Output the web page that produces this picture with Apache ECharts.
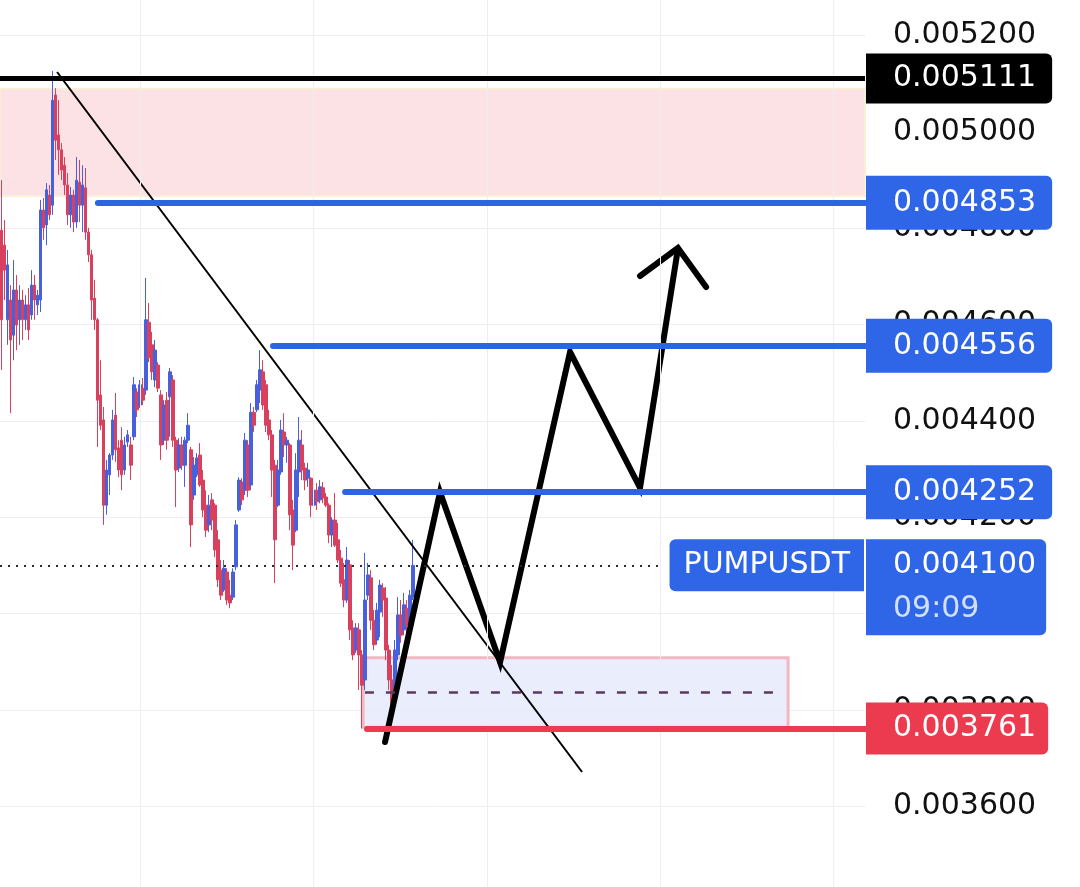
<!DOCTYPE html>
<html>
<head>
<meta charset="utf-8">
<script src="https://cdn.jsdelivr.net/npm/echarts@6/dist/echarts.min.js"></script>
<style>html,body{margin:0;padding:0;background:#fff}#c{width:1080px;height:887px}</style>
</head>
<body>
<div id="c"></div>
<script>
// ---------- data ----------
const symbolName = 'PUMPUSDT';
const countdown = '09:09';
const slotCount = 288; // bar slots on the time axis (candles + empty future space)

const opens = [
0.004796,0.004765,0.004610,0.004651,0.004578,0.004672,0.004610,0.004651,0.004610,0.004641,
0.004620,0.004682,0.004641,0.004651,0.004838,0.004807,0.004869,0.004848,0.005077,0.004994,
0.004963,0.004931,0.004890,0.004828,0.004869,0.004813,0.004896,0.004848,0.004884,0.004792,
0.004745,0.004655,0.004610,0.004454,0.004402,0.004225,0.004288,0.004329,0.004412,0.004344,
0.004360,0.004298,0.004356,0.004350,0.004367,0.004460,0.004433,0.004468,0.004464,0.004605,
0.004558,0.004485,0.004516,0.004454,0.004360,0.004443,0.004450,0.004485,0.004360,0.004302,
0.004350,0.004308,0.004360,0.004340,0.004246,0.004288,0.004329,0.004277,0.004225,0.004184,
0.004236,0.004225,0.004153,0.004090,0.004049,0.004086,0.004038,0.004034,0.004097,0.004215,
0.004273,0.004256,0.004350,0.004267,0.004418,0.004423,0.004464,0.004502,0.004475,0.004402,
0.004371,0.004308,0.004225,0.004294,0.004377,0.004350,0.004350,0.004215,0.004173,0.004294,
0.004350,0.004302,0.004281,0.004281,0.004225,0.004256,0.004236,0.004261,0.004242,0.004225,
0.004163,0.004194,0.004153,0.004115,0.004070,0.004028,0.004101,0.003970,0.003924,0.003966,
0.003914,0.003862,0.004038,0.004074,0.003986,0.003945,0.004003,0.004053,0.004032,0.003924,
0.003862,0.003820,0.003914,0.003997,0.003966,0.004011,0.003976,0.004034];

const closes = [
0.004610,0.004713,0.004724,0.004568,0.004672,0.004599,0.004651,0.004610,0.004641,0.004589,
0.004682,0.004651,0.004661,0.004838,0.004801,0.004880,0.004828,0.005066,0.004983,0.004963,
0.004921,0.004890,0.004828,0.004869,0.004813,0.004900,0.004848,0.004890,0.004792,0.004745,
0.004651,0.004610,0.004443,0.004391,0.004225,0.004298,0.004329,0.004402,0.004340,0.004298,
0.004288,0.004350,0.004371,0.004308,0.004475,0.004423,0.004475,0.004443,0.004610,0.004531,
0.004502,0.004547,0.004468,0.004350,0.004433,0.004360,0.004502,0.004360,0.004298,0.004350,
0.004308,0.004360,0.004391,0.004184,0.004308,0.004323,0.004267,0.004215,0.004173,0.004225,
0.004194,0.004132,0.004070,0.004038,0.004094,0.004028,0.004022,0.004086,0.004184,0.004277,
0.004236,0.004360,0.004256,0.004418,0.004391,0.004475,0.004506,0.004433,0.004391,0.004371,
0.004298,0.004153,0.004298,0.004381,0.004350,0.004360,0.004205,0.004142,0.004298,0.004360,
0.004298,0.004277,0.004298,0.004225,0.004256,0.004232,0.004263,0.004240,0.004225,0.004163,
0.004194,0.004142,0.004111,0.004063,0.004028,0.004111,0.003966,0.003914,0.003970,0.003914,
0.003851,0.004028,0.004080,0.003986,0.003935,0.004007,0.004059,0.004028,0.003924,0.003862,
0.003810,0.003924,0.003997,0.003955,0.004018,0.003976,0.004038,0.004100];

const lows = [
0.004506,0.004651,0.004558,0.004416,0.004526,0.004547,0.004558,0.004568,0.004589,0.004568,
0.004610,0.004610,0.004620,0.004626,0.004776,0.004765,0.004817,0.004828,0.004942,0.004911,
0.004900,0.004869,0.004807,0.004801,0.004792,0.004801,0.004813,0.004792,0.004776,0.004730,
0.004610,0.004589,0.004346,0.004381,0.004184,0.004205,0.004246,0.004319,0.004315,0.004283,
0.004256,0.004288,0.004346,0.004277,0.004360,0.004408,0.004427,0.004433,0.004454,0.004522,
0.004485,0.004470,0.004460,0.004319,0.004350,0.004340,0.004367,0.004346,0.004221,0.004294,
0.004298,0.004263,0.004354,0.004138,0.004236,0.004283,0.004263,0.004200,0.004159,0.004169,
0.004173,0.004117,0.004055,0.004028,0.004045,0.004018,0.004011,0.004028,0.004090,0.004211,
0.004225,0.004246,0.004242,0.004256,0.004377,0.004418,0.004437,0.004423,0.004377,0.004360,
0.004242,0.004063,0.004221,0.004288,0.004325,0.004313,0.004173,0.004090,0.004169,0.004242,
0.004277,0.004256,0.004263,0.004200,0.004215,0.004215,0.004229,0.004229,0.004221,0.004146,
0.004138,0.004138,0.004105,0.004055,0.004013,0.004022,0.003945,0.003903,0.003918,0.003841,
0.003761,0.003841,0.004028,0.003966,0.003924,0.003935,0.003951,0.003993,0.003903,0.003841,
0.003785,0.003810,0.003903,0.003939,0.003955,0.003939,0.003966,0.004028];

const highs = [
0.004900,0.004817,0.004755,0.004682,0.004734,0.004703,0.004682,0.004672,0.004661,0.004676,
0.004713,0.004703,0.004672,0.004859,0.004863,0.004894,0.004890,0.005127,0.005091,0.005066,
0.004977,0.004948,0.004915,0.004886,0.004880,0.004948,0.004942,0.004931,0.004925,0.004801,
0.004755,0.004693,0.004614,0.004526,0.004429,0.004319,0.004333,0.004423,0.004458,0.004360,
0.004387,0.004367,0.004381,0.004367,0.004491,0.004468,0.004485,0.004489,0.004697,0.004645,
0.004585,0.004568,0.004522,0.004464,0.004443,0.004460,0.004510,0.004495,0.004367,0.004364,
0.004367,0.004367,0.004416,0.004346,0.004325,0.004333,0.004354,0.004298,0.004256,0.004246,
0.004250,0.004229,0.004173,0.004111,0.004111,0.004094,0.004070,0.004094,0.004194,0.004283,
0.004281,0.004375,0.004360,0.004437,0.004429,0.004485,0.004547,0.004526,0.004485,0.004423,
0.004381,0.004319,0.004319,0.004402,0.004416,0.004367,0.004354,0.004236,0.004333,0.004408,
0.004381,0.004313,0.004313,0.004283,0.004263,0.004271,0.004277,0.004273,0.004250,0.004229,
0.004200,0.004250,0.004188,0.004132,0.004105,0.004138,0.004111,0.003986,0.003980,0.003980,
0.003924,0.004126,0.004105,0.004090,0.004007,0.004022,0.004070,0.004063,0.004055,0.003935,
0.003893,0.003945,0.004034,0.004028,0.004043,0.004028,0.004049,0.004153];

// price scale
const priceMin = 0.0034;
const priceMax = 0.0054;
const priceStep = 0.0002;

// vertical time grid lines (in bar-slot units)
const timeGridSlots = [46.6, 104.2, 162.1, 219.7, 277.3];

// drawn levels: [price, start slot]
const peakLevel = [0.005111, 0];
const blueLevels = [[0.004853, 32.6], [0.004556, 90.9], [0.004252, 114.9]];
const supportLevel = [0.003761, 122.2];

// zones
const supplyZone = [0.005090, 0.004867];          // top, bottom price
const demandZone = [120.9, 262.4, 0.003908, 0.003764]; // start slot, end slot, top, bottom

// trend line and projected path (slot, price)
const trendLine = [[19.0, 0.0051246], [193.8, 0.0036708]];
const projectedPath = [[128.2, 0.003733], [146.5, 0.004252], [166.5, 0.003899], [189.8, 0.004543], [213.1, 0.004261], [225.7, 0.004757]];
const arrowHead = [[213.1, 0.004701], [225.7, 0.004759], [235.1, 0.004678]];
const priceLineEndSlot = 220.7;

// ---------- build ----------
const categories = [];
for (let i = 0; i < slotCount; i++) categories.push(String(i));
const candleData = opens.map((o, i) => [o, closes[i], lows[i], highs[i]]);
const lastPrice = closes[closes.length - 1];

const FONT = 'DejaVu Sans';
const BLUE_BOX = '#2e66e7';
const BLUE_LINE = '#2f63e2';
const RED = '#ec3a4e';

function boxLabel(text, bg, opts) {
  return Object.assign({
    show: true, position: 'right', distance: 1, formatter: text,
    backgroundColor: bg, color: '#ffffff', fontFamily: FONT, fontSize: 30, lineHeight: 32,
    padding: [10, 16, 10, 27], borderRadius: [0, 6, 6, 0]
  }, opts || {});
}
function fmt(v) { return v.toFixed(6); }

const levelLines = [];
levelLines.push([{coord: [peakLevel[1], peakLevel[0]], lineStyle: {color: '#000000', width: 5, type: 'solid', cap: 'butt'}}, {coord: [slotCount, peakLevel[0]]}]);
blueLevels.forEach(l => levelLines.push([{coord: [l[1], l[0]], lineStyle: {color: BLUE_LINE, width: 6, type: 'solid', cap: 'round'}}, {coord: [slotCount, l[0]]}]));
levelLines.push([{coord: [supportLevel[1], supportLevel[0]], lineStyle: {color: RED, width: 6, type: 'solid', cap: 'round'}}, {coord: [slotCount, supportLevel[0]]}]);
levelLines.push([{coord: [0, lastPrice], lineStyle: {color: '#2b2b33', width: 2, type: [2, 6], cap: 'butt'}}, {coord: [priceLineEndSlot, lastPrice]}]);
const demandMid = (demandZone[2] + demandZone[3]) / 2;
levelLines.push([{coord: [demandZone[0] + 0.6, demandMid], lineStyle: {color: '#5c3766', width: 2.5, type: [9, 12], cap: 'butt'}}, {coord: [demandZone[1] - 3.4, demandMid]}]);

const labelPoints = [
  {coord: [slotCount, peakLevel[0]], label: boxLabel(fmt(peakLevel[0]), '#000000', {padding: [9, 16, 9, 27]})},
  ...blueLevels.map(l => ({coord: [slotCount, l[0]], label: boxLabel(fmt(l[0]), BLUE_BOX, {padding: [11, 16, 11, 27]})})),
  {coord: [slotCount, supportLevel[0]], label: boxLabel(fmt(supportLevel[0]), RED, {padding: [10, 12, 10, 27]})},
  {coord: [slotCount, lastPrice], label: {
    show: true, position: 'left', distance: 1, formatter: symbolName,
    backgroundColor: BLUE_BOX, color: '#ffffff', fontFamily: FONT, fontSize: 30, lineHeight: 32,
    padding: [10, 14, 10, 14], borderRadius: [6, 0, 0, 6]}},
  {coord: [slotCount, lastPrice], label: {
    show: true, position: 'right', distance: 1, offset: [0, 22],
    formatter: '{a|' + fmt(lastPrice) + '}\n{b|' + countdown + '}',
    backgroundColor: BLUE_BOX, padding: [4, 10, 4, 27], borderRadius: [0, 6, 6, 0],
    rich: {
      a: {color: '#ffffff', fontFamily: FONT, fontSize: 30, lineHeight: 44},
      b: {color: '#d3e0ff', fontFamily: FONT, fontSize: 30, lineHeight: 44}
    }}}
];

const option = {
  animation: false,
  backgroundColor: '#ffffff',
  grid: {left: 0, right: 215, top: -60.6, bottom: -15.4, outerBoundsMode: 'none', containLabel: false},
  xAxis: [
    {type: 'category', data: categories, boundaryGap: true, show: false},
    {type: 'value', min: 0, max: slotCount, show: false}
  ],
  yAxis: {
    type: 'value', position: 'right', min: priceMin, max: priceMax, interval: priceStep, scale: true,
    axisLine: {show: false}, axisTick: {show: false},
    axisLabel: {margin: 28, fontSize: 30, fontFamily: FONT, color: '#111111', formatter: v => v.toFixed(6)},
    splitLine: {lineStyle: {color: '#eeeef2', width: 1}}
  },
  series: [
    {
      type: 'line', xAxisIndex: 1, data: [], z: 1, silent: true,
      markLine: {silent: true, symbol: ['none', 'none'], label: {show: false}, emphasis: {disabled: true},
        lineStyle: {color: '#eeeef2', width: 1, type: 'solid'},
        data: timeGridSlots.map(x => ({xAxis: x}))}
    },
    {
      type: 'line', xAxisIndex: 1, data: [], z: 1, silent: true,
      markArea: {silent: true, emphasis: {disabled: true},
        data: [
          [{coord: [0, supplyZone[0]], itemStyle: {color: 'rgba(252,224,228,0.95)', borderColor: '#fbeed6', borderWidth: 2}}, {coord: [slotCount, supplyZone[1]]}],
          [{coord: [demandZone[0], demandZone[2]], itemStyle: {color: 'rgba(228,233,251,0.8)', borderColor: '#f2b8c1', borderWidth: 3}}, {coord: [demandZone[1], demandZone[3]]}]
        ]}
    },
    {
      type: 'candlestick', xAxisIndex: 0, data: candleData, z: 2, barWidth: 3.2, silent: true,
      itemStyle: {color: '#4760dc', color0: '#d9405e', borderColor: '#4760dc', borderColor0: '#d9405e', borderWidth: 1}
    },
    {
      type: 'line', xAxisIndex: 1, data: [], z: 3, silent: true,
      markLine: {silent: true, symbol: ['none', 'none'], label: {show: false}, emphasis: {disabled: true}, data: levelLines}
    },
    {
      type: 'line', xAxisIndex: 1, data: trendLine, z: 4, silent: true, showSymbol: false, symbol: 'none',
      lineStyle: {color: '#000000', width: 2}
    },
    {
      type: 'line', xAxisIndex: 1, data: projectedPath, z: 4, silent: true, showSymbol: false, symbol: 'none',
      lineStyle: {color: '#000000', width: 6, cap: 'round', join: 'miter'}
    },
    {
      type: 'line', xAxisIndex: 1, data: arrowHead, z: 4, silent: true, showSymbol: false, symbol: 'none',
      lineStyle: {color: '#000000', width: 6, cap: 'round', join: 'miter'}
    },
    {
      type: 'line', xAxisIndex: 1, data: [], z: 5, silent: true,
      markPoint: {silent: true, symbol: 'circle', symbolSize: 0, emphasis: {disabled: true}, data: labelPoints}
    }
  ]
};

const chart = echarts.init(document.getElementById('c'), null, {renderer: 'canvas'});
chart.setOption(option);
</script>
</body>
</html>
